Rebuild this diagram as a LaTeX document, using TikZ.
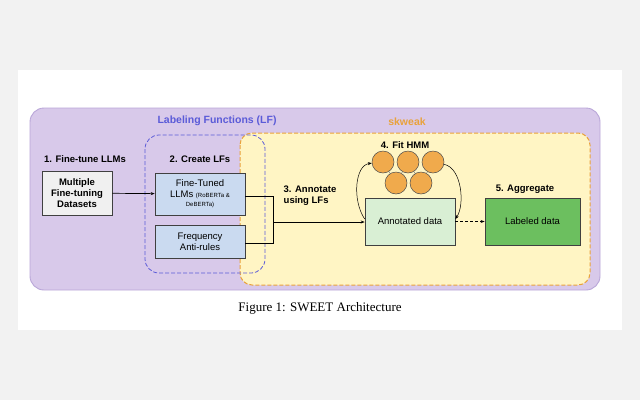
\documentclass[tikz,border=0pt]{standalone}
\usepackage{fontspec}
\setmainfont{Liberation Serif}
\newfontfamily\mysans{Liberation Sans}
\usetikzlibrary{arrows.meta}
\definecolor{pur}{HTML}{D8C9EA}
\definecolor{purb}{HTML}{B9A6D8}
\definecolor{yel}{HTML}{FFF5C4}
\definecolor{ora}{HTML}{E9A23B}
\definecolor{blu}{HTML}{5B5BD8}
\definecolor{lbl}{HTML}{CADAF0}
\definecolor{lgr}{HTML}{D9EFD4}
\definecolor{dgr}{HTML}{6CBF5F}
\definecolor{circ}{HTML}{F0AA4C}
\begin{document}
\begin{tikzpicture}[x=1pt,y=-1pt,
  box/.style={draw=black!75,line width=0.7pt,inner sep=0pt,font=\mysans\fontsize{9.5}{11}\selectfont,align=center},
  hd/.style={font=\mysans\bfseries\fontsize{9.5}{11}\selectfont},
  hm/.style={circle,draw=black!70,fill=circ,minimum size=22pt,inner sep=0pt,line width=0.5pt},
  ar/.style={-{Stealth[length=4pt]},line width=0.7pt}]
\fill[black!5] (0,0) rectangle (640,400);
\useasboundingbox (0,0) rectangle (640,400);
\fill[white] (18,70) rectangle (622,330);
\draw[purb,fill=pur,line width=0.9pt,rounded corners=14pt] (30,108) rectangle (600,290);
\draw[ora,fill=yel,line width=1pt,dash pattern=on 4pt off 2pt,rounded corners=12pt] (240,133) rectangle (590,285);
\draw[blu,line width=0.8pt,dash pattern=on 4pt off 2pt,rounded corners=14pt] (145,135) rectangle (265,273);
\node[font=\mysans\bfseries\fontsize{10.5}{12}\selectfont,text=blu] (lf) at (217,121) {Labeling Functions (LF)};
\node[font=\mysans\bfseries\fontsize{10.5}{12}\selectfont,text=ora] (sk) at (407,122) {skweak};
\node[hd] (h1) at (85,159) {1. Fine-tune LLMs};
\node[hd] (h2) at (200,159) {2. Create LFs};
\node[hd,align=left] (h3) at (310,196) {3. Annotate\\using LFs};
\node[hd] (h4) at (405,145) {4. Fit HMM};
\node[hd] (h5) at (525,189) {5. Aggregate};
\node[box,fill=black!6,font=\mysans\bfseries\fontsize{9.5}{11}\selectfont,minimum width=70pt,minimum height=44pt] (md) at (77,193) {Multiple\\Fine-tuning\\Datasets};
\node[box,fill=lbl,minimum width=90pt,minimum height=42pt] (ft) at (200,194) {Fine-Tuned\\LLMs {\fontsize{6}{7}\selectfont(RoBERTa \&}\\[-2pt]{\fontsize{6}{7}\selectfont DeBERTa)}};
\node[box,fill=lbl,minimum width=90pt,minimum height=33pt] (fr) at (200,241.5) {Frequency\\Anti-rules};
\node[box,fill=lgr,minimum width=90pt,minimum height=47pt] (an) at (410,221.5) {Annotated data};
\node[box,fill=dgr,minimum width=95pt,minimum height=47pt] (lb) at (532.5,221.5) {Labeled data};
\node[hm] (c1) at (383,162) {};
\node[hm] (c2) at (408,162) {};
\node[hm] (c3) at (433,162) {};
\node[hm] (c4) at (396,183) {};
\node[hm] (c5) at (421,183) {};
\draw[black!60,line width=0.4pt] (c1)--(c4)--(c2)--(c5)--(c3);
\coordinate (j) at (273,222);
\draw[ar] (md) -- (ft);
\draw[line width=0.7pt] (ft.east |- 0,196) -| (j);
\draw[line width=0.7pt] (fr.east |- 0,243) -| (j);
\draw[ar] (j) -- (an.west |- j);
\draw[ar,dash pattern=on 3pt off 2pt] (an) -- (lb);
\draw[ar,line width=0.5pt] (an.west |- 0,219) .. controls (352,200) and (355,165) .. (c1);
\draw[ar,line width=0.5pt] (c3) .. controls (462,168) and (465,205) .. (an.east |- 0,219);
\node[font=\fontsize{13}{15}\selectfont] (cap) at (320,308) {Figure 1: SWEET Architecture};
\end{tikzpicture}
\end{document}
